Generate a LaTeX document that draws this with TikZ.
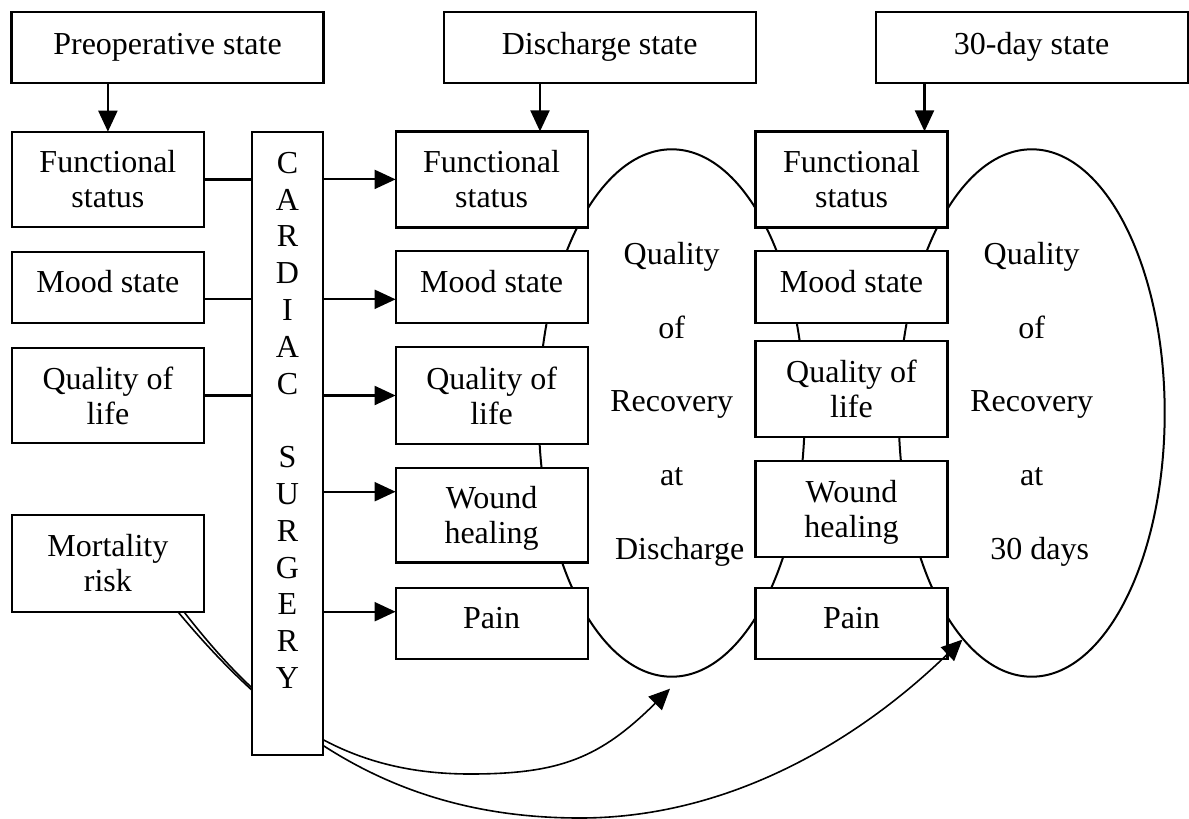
\documentclass[tikz,border=0pt]{standalone}
\usepackage{fontspec}
\setmainfont{Liberation Serif}
\usetikzlibrary{arrows.meta,shapes.geometric,calc}
\tikzset{
  box/.style={draw, line width=2.2pt, fill=white, inner sep=0pt, outer sep=0pt,
    align=center, font=\fontsize{32}{35}\selectfont, minimum width=192pt},
  topbox/.style={box, minimum width=312pt, minimum height=71.3pt},
  oneline/.style={text depth=11pt},
  flatline/.style={text depth=0pt},
  link/.style={line width=2.1pt},
  arrowlink/.style={link, -{Triangle[length=21pt,width=19pt]}},
  riskpath/.style={line width=1.6pt, -{Triangle[length=21pt,width=19pt]}},
  qor/.style={draw, ellipse, line width=2pt, minimum width=266pt,
    minimum height=527.4pt, inner sep=0pt},
  qorlabel/.style={align=center, inner sep=0pt, font=\fontsize{32}{73.7}\selectfont},
  vlabel/.style={align=center, inner sep=0pt, font=\fontsize{32}{36.8}\selectfont}
}
\begin{document}
\begin{tikzpicture}[x=1pt,y=-1pt]
\useasboundingbox (0,0) rectangle (1189,819);

% quality-of-recovery ellipses (behind the outcome boxes)
\node[qor] (qd) at (671.7,413) {};
\node[qor] (qt) at (1031.7,413) {};
\node[qorlabel, anchor=north] (qdl) at (671.7,242)
  {Quality\\of\\Recovery\\at\\\hspace*{16pt}Discharge};
\node[qorlabel, anchor=north] (qtl) at (1031.7,242)
  {Quality\\of\\Recovery\\at\\\hspace*{16pt}30 days};

% stage headers
\node[topbox] (pre) at (167.5,47.3) {Preoperative state};
\node[topbox] (dis) at (599.7,47.3) {Discharge state};
\node[topbox] (thirty) at (1031.6,47.3) {30-day state};

% preoperative measures
\node[box, minimum height=95.6pt] (fsL) at (107.9,179.5) {Functional\\status};
\node[box, oneline, minimum height=71pt] (moodL) at (107.9,287.2) {Mood state};
\node[box, minimum height=95.6pt] (qolL) at (107.9,395.5) {Quality of\\life};
\node[box, minimum height=96.7pt] (mortL) at (107.9,563.4) {Mortality\\risk};

% discharge measures
\node[box, minimum height=96pt] (fsM) at (491.6,179.4) {Functional\\status};
\node[box, oneline, minimum height=72.3pt] (moodM) at (491.6,287) {Mood state};
\node[box, minimum height=96.4pt] (qolM) at (491.6,395.5) {Quality of\\life};
\node[box, flatline, minimum height=94.7pt] (woundM) at (491.6,515.2) {Wound\\healing};
\node[box, oneline, minimum height=71.4pt] (painM) at (491.6,623.3) {Pain};

% 30-day measures
\node[box, minimum height=96pt] (fsR) at (851.5,179.4) {Functional\\status};
\node[box, oneline, minimum height=72.3pt] (moodR) at (851.5,287) {Mood state};
\node[box, minimum height=95.8pt] (qolR) at (851.5,388.9) {Quality of\\life};
\node[box, flatline, minimum height=95.6pt] (woundR) at (851.5,508.8) {Wound\\healing};
\node[box, oneline, minimum height=71.4pt] (painR) at (851.5,623.3) {Pain};

% mortality risk feeding both recovery assessments
\draw[riskpath] ([xshift=-20pt]mortL.south east)
  .. controls (262,712) and (339,774) .. (470,774)
  .. controls (560,774) and (600,758) .. ($(qd.south)+(-1.7,11)$);
\draw[riskpath] ([xshift=-26pt]mortL.south east)
  .. controls (286,742) and (405,818) .. (580,818)
  .. controls (730,818) and (859,740) .. (qt.253);

% surgery bar
\node[box, minimum width=71.6pt, minimum height=623.3pt] (card) at (287.5,443.4) {};
\node[vlabel, anchor=north] (cardl) at (287.5,152)
  {C\\A\\R\\D\\I\\A\\C\\[36.8pt]S\\U\\R\\G\\E\\R\\Y};

% header arrows
\coordinate (disdrop) at ([xshift=48.4pt]fsM.north);
\coordinate (thirtydrop) at ([xshift=73pt]fsR.north);
\draw[arrowlink] (pre.south -| fsL.north) -- (fsL.north);
\draw[arrowlink] (dis.south -| disdrop) -- (disdrop);
\draw[arrowlink] (thirty.south -| thirtydrop) -- (thirtydrop);

% preoperative measures into surgery
\coordinate (moodrow) at ([yshift=-12.1pt]moodL.east);
\draw[link] (fsL.east) -- (fsL.east -| card.west);
\draw[link] (moodrow) -- (moodrow -| card.west);
\draw[link] (qolL.east) -- (qolL.east -| card.west);

% surgery into discharge measures
\coordinate (woundrow) at ([yshift=23.5pt]woundM.west);
\coordinate (painrow) at ([yshift=11.6pt]painM.west);
\draw[arrowlink] (card.east |- fsM.west) -- (fsM.west);
\draw[arrowlink] (card.east |- moodrow) -- (moodrow -| moodM.west);
\draw[arrowlink] (card.east |- qolM.west) -- (qolM.west);
\draw[arrowlink] (card.east |- woundrow) -- (woundrow);
\draw[arrowlink] (card.east |- painrow) -- (painrow);
\end{tikzpicture}
\end{document}
